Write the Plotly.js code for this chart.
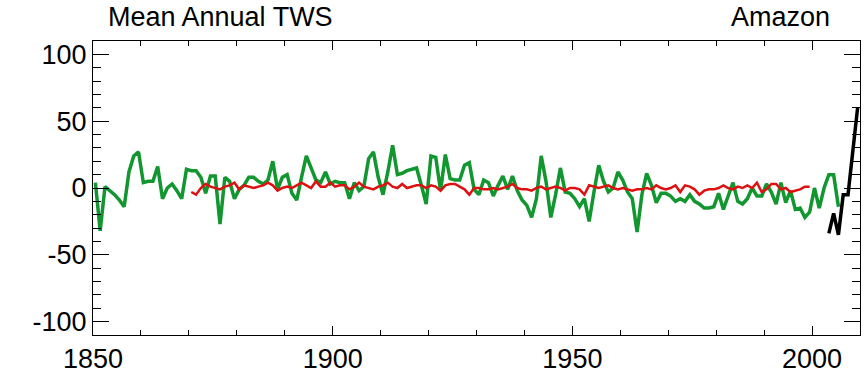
<!DOCTYPE html>
<html>
<head>
<meta charset="utf-8">
<script src="https://cdn.plot.ly/plotly-3.0.1.min.js"></script>
<style>
  html, body { margin: 0; padding: 0; background: #ffffff; }
  #chart { width: 865px; height: 375px; }
</style>
</head>
<body>
<div id="chart"></div>
<script>
// Amazon basin terrestrial water storage, annual means (mm)

// Reconstructed TWS (green), 1850-2005
const reconStart = 1850;
const reconTWS = [
   4, -32,   1,  -2,  -5,  -9, -14,  12,  24,  27,   // 1850s
   4,   5,   5,  16,  -8,   0,   3,  -2,  -8,  14,   // 1860s
  13,  13,   8,  -4,   9,   9, -27,   8,   5,  -8,   // 1870s
  -1,   2,   8,   8,   5,   3,   6,  20,  -1,   8,   // 1880s
  10,  -4,  -9,   8,  24,  15,   6,   4,  12,   3,   // 1890s
   5,   4,   4,  -8,   4,  -2,   1,  22,  27,   8,   // 1900s
  -5,  12,  32,  10,  11,  13,  14,  15,   2, -12,   // 1910s
  24,  23,  -2,  25,   7,   6,   6,  17,  19,  -1,   // 1920s
  -5,   6,   4,  -6,   2,   9,  -1,   9,  -2,  -9,   // 1930s
 -13, -22,  -8,  24,   5, -22,  -5,  15,  -3,  -4,   // 1940s
  -8, -14,  -8, -25,  -3,  17,   5,  -3,   0,  12,   // 1950s
   6,  -3,  -8, -33,  -5,  11,   2, -11,  -4,  -4,   // 1960s
  -6, -10,  -8, -10,  -5, -10, -12, -15, -15, -14,   // 1970s
  -4, -16,  -6,   4, -10, -12,  -8,   0,  -6,  -6,   // 1980s
   3,  -3, -12,   4, -11,  -2, -16, -15, -22, -18,   // 1990s
   0, -15,   0,  10,  10, -14                        // 2000s
];

// Model TWS (red), 1870-1999
const modelStart = 1870;
const modelTWS = [
  -3, -5,  0,  3,  1,  0, -1,  1,  2,  4,
  -1,  2,  1,  0,  1,  2,  4,  2, -2,  0,
   1,  0,  2,  4,  2,  0,  5,  1,  1,  4,
   1,  2,  2, -1,  1,  4,  1,  0, -1,  1,
   2,  4,  1,  0,  3,  0,  1,  2,  2,  0,
   2,  1, -2,  2,  3,  3,  1, -1, -5,  0,
   0, -1, -1,  0, -1,  0,  1,  3,  0, -1,
  -1, -2,  0,  1, -1,  0,  1,  0, -2,  0,
   0, -1, -5,  2,  1,  0,  1,  2,  0, -1,
   0, -1, -2, -1, -1,  0, -1,  2,  0, -1,
   0,  2, -3,  2,  1, -1, -5, -2, -1, -1,
   0,  2,  0, -1,  1,  0,  2,  0,  4, -3,
  -1,  3,  3, -1,  0, -3, -2, -1,  1,  1
];

// GRACE TWS (black), 2003-2009
const graceStart = 2003;
const graceTWS = [-34, -19, -35, -5, -5, 27, 60];

// axis ticks
const xTickVals = [1850, 1900, 1950, 2000];
const yTickVals = [-100, -50, 0, 50, 100];

// annual means are centred on mid-year
function yearsFrom(start, n) {
  const out = [];
  for (let i = 0; i < n; i++) out.push(start + i + 0.5);
  return out;
}

const traces = [
  {
    x: yearsFrom(reconStart, reconTWS.length), y: reconTWS,
    type: 'scatter', mode: 'lines', name: 'Reconstruction',
    line: { color: '#12962f', width: 3.5 }
  },
  {
    x: yearsFrom(modelStart, modelTWS.length), y: modelTWS,
    type: 'scatter', mode: 'lines', name: 'Model',
    line: { color: '#dd1111', width: 2.5 }
  },
  {
    x: yearsFrom(graceStart, graceTWS.length), y: graceTWS,
    type: 'scatter', mode: 'lines', name: 'GRACE',
    line: { color: '#000000', width: 3.5 }
  }
];

const fontFamily = '"Liberation Sans", Arial, Helvetica, sans-serif';
const textSize = 27;

const layout = {
  width: 865, height: 375,
  margin: { l: 93, r: 5, t: 41, b: 40, pad: 0 },
  paper_bgcolor: '#ffffff', plot_bgcolor: '#ffffff',
  showlegend: false,
  font: { family: fontFamily, size: textSize, color: '#000000' },
  title: {
    text: 'Mean Annual TWS',
    font: { family: fontFamily, size: textSize, color: '#000000' },
    xref: 'container', x: 108 / 865, xanchor: 'left',
    yref: 'container', y: 1 - 17 / 375, yanchor: 'middle'
  },
  annotations: [{
    text: 'Amazon', showarrow: false,
    xref: 'paper', x: (832 - 93) / 767, xanchor: 'right',
    yref: 'paper', y: 1 + 24 / 294, yanchor: 'middle',
    font: { family: fontFamily, size: textSize, color: '#000000' }
  }],
  xaxis: {
    range: [1850, 2010],
    tickvals: xTickVals, ticktext: xTickVals.map(String),
    ticks: 'inside', ticklen: 9, tickwidth: 1, tickcolor: '#000000',
    minor: { dtick: 10, tick0: 1850, ticks: 'inside', ticklen: 5, tickwidth: 1, tickcolor: '#000000' },
    showline: true, linecolor: '#000000', linewidth: 1, mirror: 'ticks',
    showgrid: false, zeroline: false,
    tickfont: { family: fontFamily, size: textSize, color: '#000000' }
  },
  yaxis: {
    range: [-110, 110],
    tickvals: yTickVals, ticktext: yTickVals.map(String),
    ticks: 'inside', ticklen: 16, tickwidth: 1, tickcolor: '#000000',
    minor: { dtick: 10, tick0: 0, ticks: 'inside', ticklen: 8, tickwidth: 1, tickcolor: '#000000' },
    showline: true, linecolor: '#000000', linewidth: 1, mirror: 'ticks',
    showgrid: false, zeroline: false,
    tickfont: { family: fontFamily, size: textSize, color: '#000000' }
  }
};

Plotly.newPlot('chart', traces, layout, { staticPlot: true, displayModeBar: false });
</script>
</body>
</html>
